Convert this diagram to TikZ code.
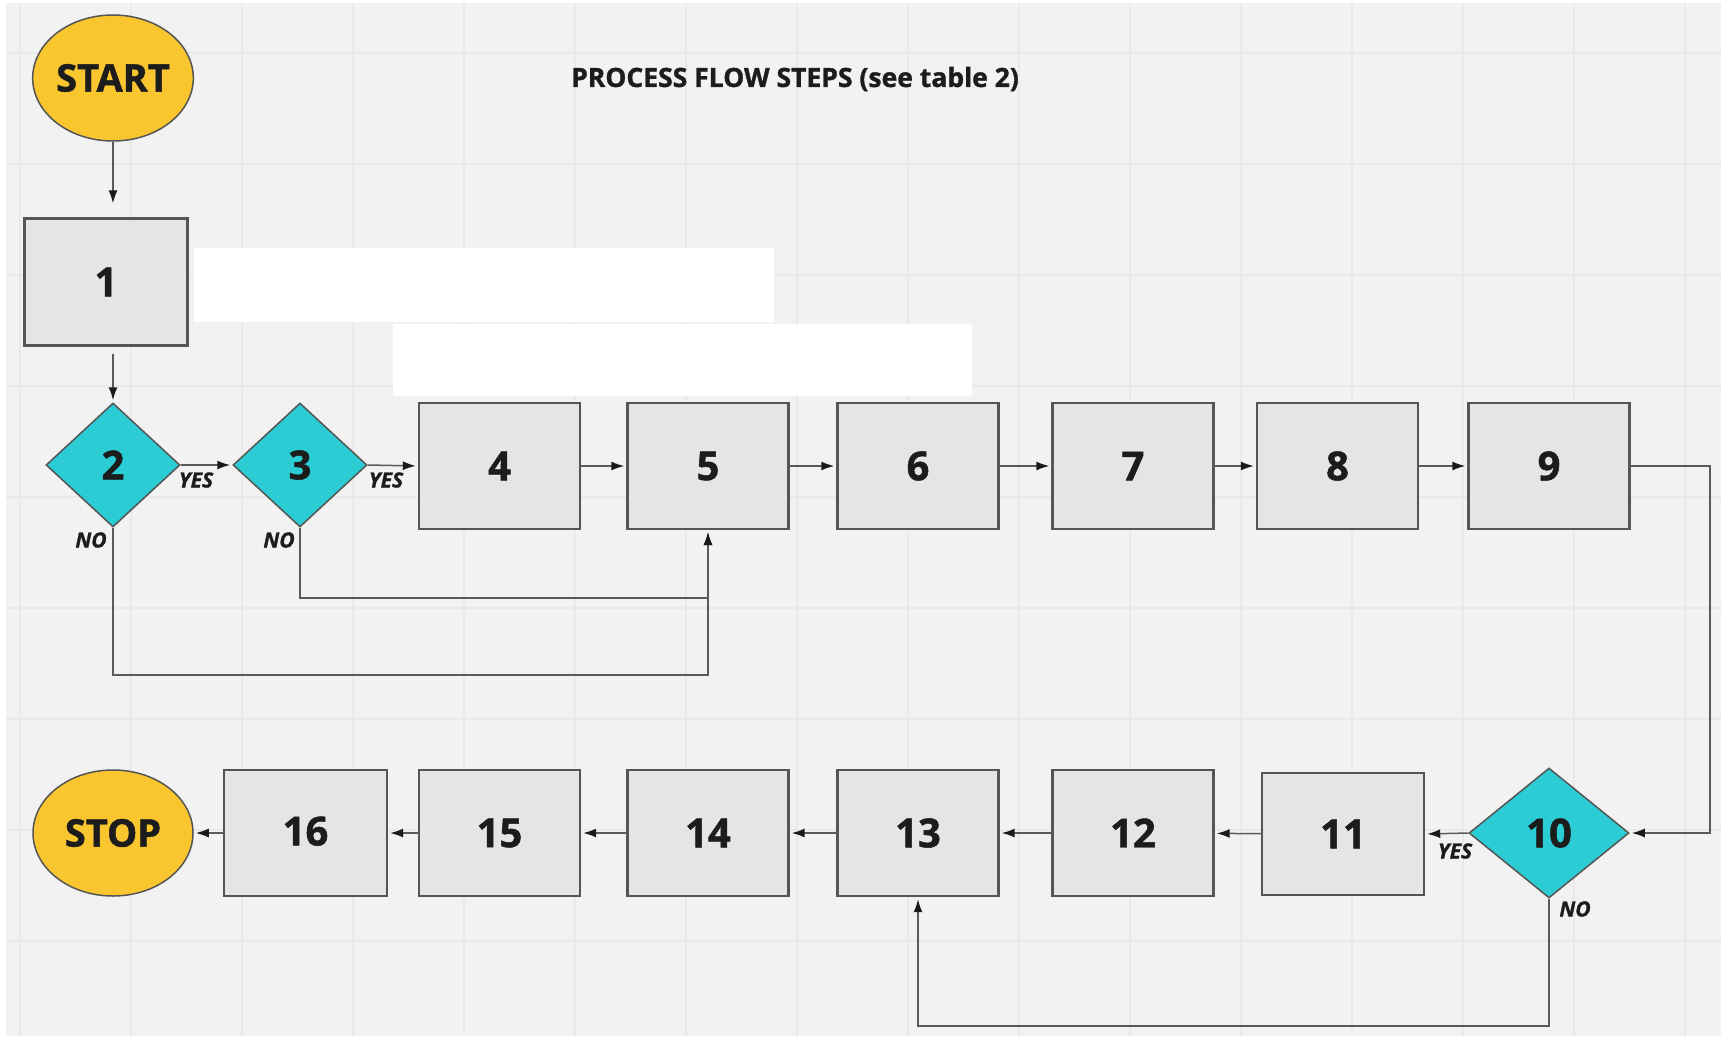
\documentclass[tikz,border=0pt]{standalone}
\usepackage{fontspec}
\setmainfont{Open Sans}[BoldFeatures={FakeBold=1.2},BoldItalicFeatures={FakeBold=1.2}]
\usetikzlibrary{shapes.geometric,arrows.meta}
\definecolor{bgc}{HTML}{F2F2F2}
\definecolor{gridc}{HTML}{E9E9E9}
\definecolor{boxfill}{HTML}{E5E5E5}
\definecolor{boxline}{HTML}{555555}
\definecolor{linec}{HTML}{5A5A5A}
\definecolor{tipc}{HTML}{1A1A1A}
\definecolor{yelc}{HTML}{F9C62F}
\definecolor{tealc}{HTML}{2BCCD4}
\definecolor{txtc}{HTML}{1C1C1C}
\tikzset{
  stepbox/.style={draw=boxline, line width=2.4pt, fill=boxfill, rectangle, inner sep=0pt,
    minimum width=161pt, minimum height=126pt, text=txtc,
    font=\fontsize{40}{44}\selectfont\bfseries},
  term/.style={draw=boxline, line width=1.5pt, fill=yelc, ellipse, inner sep=0pt,
    minimum width=160pt, minimum height=126pt, text=txtc,
    font=\fontsize{38}{42}\selectfont\bfseries},
  dec/.style={draw=boxline, line width=1.5pt, fill=tealc, diamond, inner sep=0pt,
    minimum width=134pt, minimum height=124pt, text=txtc,
    font=\fontsize{40}{44}\selectfont\bfseries},
  arr/.style={draw=linec, line width=1.5pt, -{Latex[length=13pt,width=9pt,color=tipc]}, shorten >=2pt},
  lbl/.style={text=txtc, font=\fontsize{21}{23}\selectfont\bfseries\itshape, inner sep=0pt},
  ttl/.style={text=txtc, font=\fontsize{26.5}{29}\selectfont\bfseries, inner sep=0pt},
}
\begin{document}
\begin{tikzpicture}[x=1pt,y=-1pt]
\useasboundingbox (0,0) rectangle (1721,1039);
\fill[white] (0,0) rectangle (1721,1039);
\fill[bgc] (6,3) rectangle (1721,1036);
\foreach \x in {20,131,...,1720} \draw[gridc, line width=2pt] (\x,3) -- (\x,1036);
\foreach \y in {53,164,...,1036} \draw[gridc, line width=2pt] (6,\y) -- (1721,\y);

% title
\node[ttl] (title) at (795,79) {PROCESS FLOW STEPS (see table 2)};

% top nodes
\node[term] (start) at (113,78) {START};
\node[stepbox, minimum width=163pt, minimum height=127pt] (n1) at (106,282) {1};
\fill[white] (194,248) rectangle (774,322);
\fill[white] (393,324) rectangle (972,396);

\node[dec] (n2) at (113,465) {2};
\node[dec] (n3) at (300,465) {3};
\node[stepbox] (n4) at (499.5,466) {4};
\node[stepbox] (n5) at (708,466) {5};
\node[stepbox] (n6) at (918,466) {6};
\node[stepbox] (n7) at (1133,466) {7};
\node[stepbox] (n8) at (1337.5,466) {8};
\node[stepbox] (n9) at (1549,466) {9};

% bottom nodes
\node[dec, minimum width=160pt, minimum height=130pt] (n10) at (1549,833) {10};
\node[stepbox, minimum width=162pt, minimum height=122pt] (n11) at (1343,834) {11};
\node[stepbox] (n12) at (1133,833) {12};
\node[stepbox] (n13) at (918,833) {13};
\node[stepbox] (n14) at (708,833) {14};
\node[stepbox] (n15) at (499.5,833) {15};
\node[stepbox, minimum width=163pt] (n16) at (305.5,833) {\raisebox{4pt}{16}};
\node[term] (stop) at (113,833) {STOP};

% helper coordinates
\coordinate (r2) at (113,675);
\coordinate (r3) at (300,598);
\coordinate (r9) at (1710,466);
\coordinate (r10) at (1549,1026);

% connectors
\draw[arr, shorten >=14pt] (start.south) -- (start.south |- n1.north);
\draw[arr, shorten <=7pt] (n2.north |- n1.south) -- (n2.north);
\draw[arr] (n2.east) -- (n3.west);
\draw[arr] (n3.east) -- (n4.west);
\draw[arr] (n4) -- (n5);
\draw[arr] (n5) -- (n6);
\draw[arr] (n6) -- (n7);
\draw[arr] (n7) -- (n8);
\draw[arr] (n8) -- (n9);
\draw[arr] (n9.east) -- (r9) |- (n10.east);
\draw[arr] (n10.west) -- (n11.east);
\draw[arr] (n11) -- (n12);
\draw[arr] (n12) -- (n13);
\draw[arr] (n13) -- (n14);
\draw[arr] (n14) -- (n15);
\draw[arr] (n15) -- (n16);
\draw[arr] (n16) -- (stop);
\draw[arr] (n2.south) -- (r2) -| (n5.south);
\draw[arr] (n3.south) -- (r3) -| (n5.south);
\draw[arr] (n10.south) -- (r10) -| (n13.south);

% labels
\node[lbl] (y2) at (196,480) {YES};
\node[lbl] (y3) at (386,480) {YES};
\node[lbl] (no2) at (91,540) {NO};
\node[lbl] (no3) at (279,540) {NO};
\node[lbl] (y10) at (1455,851) {YES};
\node[lbl] (no10) at (1575,909) {NO};
\end{tikzpicture}
\end{document}
